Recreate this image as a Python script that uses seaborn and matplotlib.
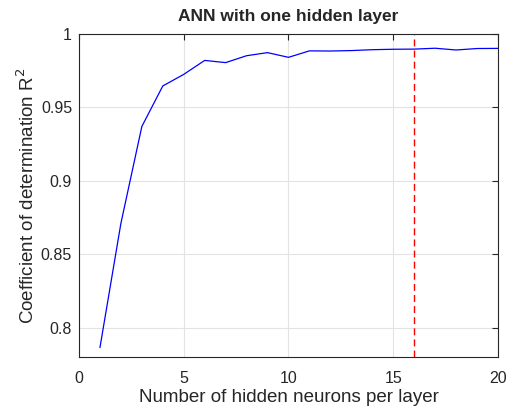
import matplotlib
matplotlib.use("Agg")
import matplotlib.pyplot as plt
import seaborn as sns
import pandas as pd
from matplotlib.ticker import FuncFormatter

neurons = list(range(1, 21))
r2 = [0.7864, 0.871, 0.937, 0.9646, 0.9725, 0.982, 0.9805, 0.9852, 0.9873,
      0.9841, 0.9885, 0.9884, 0.9887, 0.9893, 0.9896, 0.9897, 0.9903,
      0.9891, 0.9901, 0.9902]
best_neurons = 16
x_ticks = [0, 5, 10, 15, 20]
y_ticks = [0.8, 0.85, 0.9, 0.95, 1.0]

sns.set_style("white")
plt.rcParams["font.family"] = ["Liberation Sans", "DejaVu Sans"]

df = pd.DataFrame({"neurons": neurons, "r2": r2})

fig = plt.figure(figsize=(5.07, 4.09), dpi=100)
ax = fig.add_axes([0.1558, 0.1271, 0.8264, 0.7898])

sns.lineplot(data=df, x="neurons", y="r2", ax=ax, color="#0000ff", linewidth=0.9)
ax.axvline(best_neurons, color="#ff0000", linestyle=(0, (5, 3)), linewidth=1.0)

ax.set_xlim(0, 20)
ax.set_ylim(0.78, 1.0)
ax.set_xticks(x_ticks)
ax.set_yticks(y_ticks)
ax.yaxis.set_major_formatter(FuncFormatter(lambda v, p: f"{v:g}"))
ax.grid(True, color="#e3e3e3", linewidth=0.8)
ax.tick_params(direction="in", length=4, colors="#262626", labelsize=11.5,
               top=True, right=True, width=0.8, pad=5)
ax.tick_params(axis="x", pad=10)
for s in ax.spines.values():
    s.set_color("#262626")
    s.set_linewidth(0.8)
    s.set_visible(True)

ax.set_xlabel("Number of hidden neurons per layer", fontsize=13.5, color="#262626",
              labelpad=2)
ax.set_ylabel("Coefficient of determination R$^2$", fontsize=13.5, color="#262626",
              labelpad=2)
ax.set_title("ANN with one hidden layer", fontsize=12.5, fontweight="bold", pad=9)

fig.savefig("out.png", dpi=100)
